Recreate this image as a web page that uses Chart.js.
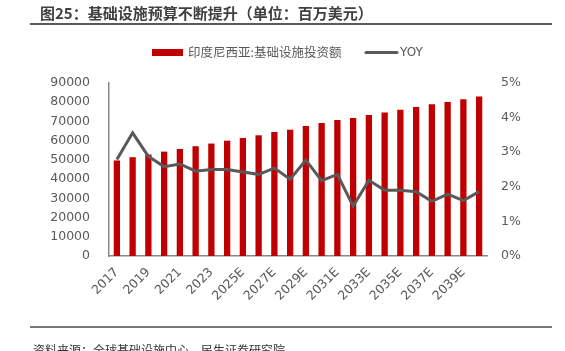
<!DOCTYPE html>
<html>
<head>
<meta charset="utf-8">
<script src="https://cdn.jsdelivr.net/npm/chart.js@4/dist/chart.umd.min.js"></script>
<style>
  html, body { margin: 0; padding: 0; background: #fff; }
  .wrap { position: relative; width: 565px; height: 351px; overflow: hidden; }
  .rule { position: absolute; left: 30px; width: 522px; background: #666; }
</style>
</head>
<body>
<div class="wrap">
  <canvas id="chart" width="565" height="351"></canvas>
  <div class="rule" style="top:23px;height:2px;background:#5a5a5a;"></div>
  <div class="rule" style="top:326px;height:2px;background:#7a7a7a;"></div>
</div>
<script>
// 数据
var years = ['2017','2018','2019','2020','2021','2022','2023','2024','2025E','2026E','2027E','2028E',
             '2029E','2030E','2031E','2032E','2033E','2034E','2035E','2036E','2037E','2038E','2039E','2040E'];
var invest = [49700, 51400, 52800, 54300, 55700, 57100, 58500, 60000, 61400, 62800, 64500, 65700,
              67600, 69200, 70800, 71800, 73400, 74700, 76100, 77500, 78900, 80100, 81500, 83000];
var yoy = [2.79, 3.56, 2.88, 2.58, 2.66, 2.45, 2.50, 2.50, 2.43, 2.36, 2.54, 2.22,
           2.77, 2.18, 2.36, 1.44, 2.19, 1.90, 1.90, 1.86, 1.58, 1.79, 1.60, 1.86];

var titleText = '图25：基础设施预算不断提升（单位：百万美元）';
var sourceText = '资料来源：全球基础设施中心，民生证券研究院';
var barLabel = '印度尼西亚:基础设施投资额';
var lineLabel = 'YOY';

var red = '#C00000';
var grey = '#595959';
var tickFont = { family: 'DejaVu Sans', size: 12.5 };

var decor = {
  id: 'decor',
  afterDraw: function(chart) {
    var ctx = chart.ctx;
    ctx.save();
    // 标题
    ctx.fillStyle = '#404040';
    ctx.font = 'bold 15px "Noto Sans CJK SC"';
    ctx.textBaseline = 'alphabetic';
    ctx.textAlign = 'left';
    ctx.fillText(titleText, 40, 19);
    // 标题下划线
    ctx.fillStyle = '#5a5a5a';
    ctx.fillRect(30, 23, 522, 2);
    // 图例
    ctx.fillStyle = red;
    ctx.fillRect(152, 49, 31, 7);
    ctx.fillStyle = grey;
    ctx.font = '12.5px "Noto Sans CJK SC"';
    ctx.textBaseline = 'middle';
    ctx.fillText(barLabel, 188, 52.5);
    ctx.strokeStyle = grey;
    ctx.lineWidth = 3;
    ctx.lineCap = 'round';
    ctx.beginPath();
    ctx.moveTo(366, 52.5);
    ctx.lineTo(397, 52.5);
    ctx.stroke();
    ctx.font = '12px "DejaVu Sans"';
    ctx.fillText(lineLabel, 400, 52.5);
    // 资料来源
    ctx.fillStyle = '#333';
    ctx.font = '12px "Noto Sans CJK SC"';
    ctx.textBaseline = 'top';
    ctx.fillText(sourceText, 33, 344);
    ctx.restore();
  }
};

new Chart(document.getElementById('chart'), {
  data: {
    labels: years,
    datasets: [
      {
        type: 'line',
        label: lineLabel,
        data: yoy,
        yAxisID: 'y1',
        borderColor: grey,
        borderWidth: 3,
        pointRadius: 0,
        tension: 0,
        order: 1
      },
      {
        type: 'bar',
        label: barLabel,
        data: invest,
        yAxisID: 'y',
        backgroundColor: red,
        barPercentage: 0.4,
        categoryPercentage: 1,
        order: 2
      }
    ]
  },
  options: {
    responsive: false,
    animation: false,
    layout: { padding: { top: 83, left: 0, right: 0, bottom: 0 } },
    plugins: { legend: { display: false }, tooltip: { enabled: false } },
    scales: {
      x: {
        grid: { display: false, drawTicks: false },
        border: { color: '#888', width: 1.5 },
        ticks: {
          color: grey, font: tickFont, autoSkip: false,
          maxRotation: 45, minRotation: 45, padding: 9,
          callback: function(v, i) { return i % 2 === 0 ? years[i] : ''; }
        },
        afterFit: function(s) { s.height = 95; }
      },
      y: {
        position: 'left',
        min: 0, max: 90000,
        grid: { display: false, drawTicks: false },
        border: { color: '#888', width: 1.5 },
        ticks: { stepSize: 10000, color: grey, font: tickFont, padding: 19,
                 callback: function(v) { return String(v); } },
        afterFit: function(s) { s.width = 109; }
      },
      y1: {
        position: 'right',
        min: 0, max: 5,
        grid: { display: false, drawTicks: false },
        border: { display: false },
        ticks: { stepSize: 1, color: grey, font: tickFont, padding: 14,
                 callback: function(v) { return v + '%'; } },
        afterFit: function(s) { s.width = 78; }
      }
    }
  },
  plugins: [decor]
});
</script>
</body>
</html>
